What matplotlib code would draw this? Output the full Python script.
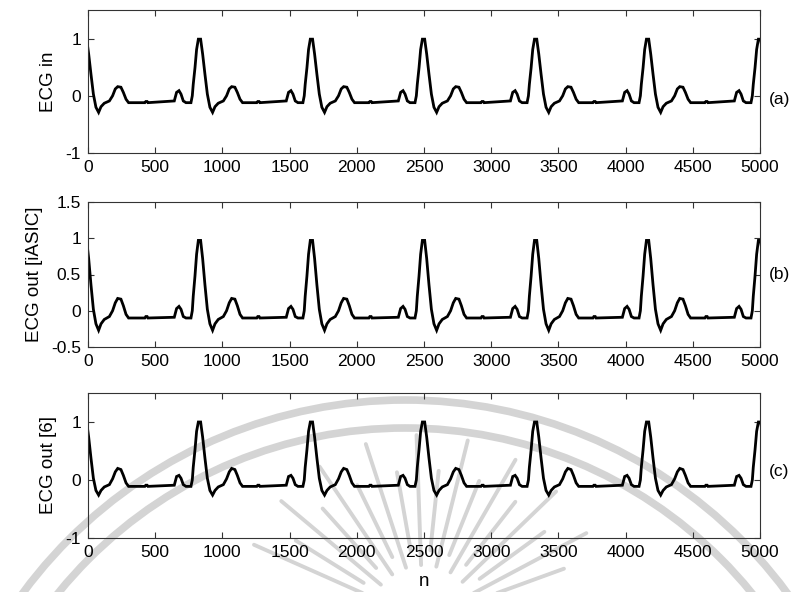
import numpy as np
import matplotlib.pyplot as plt
from matplotlib.patches import Arc

plt.rcParams['font.family'] = ['Liberation Sans', 'DejaVu Sans']

# R-peak sample positions of the six beats (plus the partial one at the edges)
r_peaks = [-20, 828, 1661, 2495, 3329, 4162, 4995]

# one beat, sample offsets relative to the R peak
beat_offsets = [-405, -398, -388, -382, -186, -169, -151, -136, -119, -99,
                -62, -52, -45, -32, -20, -7, 10, 25, 42, 60, 79, 99, 117,
                141, 179, 203, 223, 241, 265, 283, 303, 322, 420]

# beat amplitudes for the input signal and the two filter outputs
beat_in = [-0.12, -0.10, -0.10, -0.12, -0.09, 0.06, 0.09, 0.03, -0.09, -0.12,
           -0.12, 0.00, 0.20, 0.49, 0.81, 0.99, 0.99, 0.73, 0.38, 0.03, -0.20,
           -0.29, -0.19, -0.13, -0.09, 0.00, 0.12, 0.16, 0.15, 0.06, -0.06,
           -0.12, -0.12]
beat_iasic = [-0.10, -0.08, -0.08, -0.10, -0.09, 0.03, 0.06, 0.02, -0.08, -0.10,
              -0.10, 0.00, 0.20, 0.48, 0.78, 0.97, 0.97, 0.72, 0.36, 0.02, -0.18,
              -0.27, -0.18, -0.12, -0.08, 0.00, 0.11, 0.17, 0.16, 0.07, -0.05,
              -0.10, -0.10]
beat_ref6 = [-0.11, -0.09, -0.09, -0.11, -0.09, 0.06, 0.08, 0.03, -0.08, -0.11,
             -0.11, 0.00, 0.22, 0.52, 0.84, 1.00, 1.00, 0.74, 0.38, 0.03, -0.18,
             -0.26, -0.18, -0.12, -0.08, 0.02, 0.14, 0.20, 0.18, 0.08, -0.05,
             -0.11, -0.11]

panels = [
    ('ECG in', beat_in, (-1, 1.5), [-1, 0, 1], ['-1', '0', '1'], '(a)', -0.06),
    ('ECG out [iASIC]', beat_iasic, (-0.5, 1.5), [-0.5, 0, 0.5, 1, 1.5],
     ['-0.5', '0', '0.5', '1', '1.5'], '(b)', 0.5),
    ('ECG out [6]', beat_ref6, (-1, 1.5), [-1, 0, 1], ['-1', '0', '1'], '(c)', 0.15),
]
x_ticks = [0, 500, 1000, 1500, 2000, 2500, 3000, 3500, 4000, 4500, 5000]


def build_signal(beat_vals):
    xs, ys = [], []
    for r in r_peaks:
        xs.extend(r + np.array(beat_offsets))
        ys.extend(beat_vals)
    return np.array(xs), np.array(ys)


W, H = 793, 592
fig = plt.figure(figsize=(W / 100, H / 100), dpi=100)

# faint seal watermark behind the plots
bg = fig.add_axes([0, 0, 1, 1], zorder=-1)
bg.set_xlim(0, W)
bg.set_ylim(H, 0)
bg.axis('off')
wm = '#d4d4d4'
for rad in (475, 447):
    bg.add_patch(Arc((405, 875), 2 * rad, 2 * rad, theta1=180, theta2=360,
                     color=wm, lw=5.5))
for i, ang in enumerate(np.arange(20, 162, 8)):
    a = np.deg2rad(ang)
    r0, r1 = (55, 185) if i % 2 else (70, 150)
    bg.plot([423 + r0 * np.cos(a), 423 + r1 * np.cos(a)],
            [620 - r0 * np.sin(a), 620 - r1 * np.sin(a)],
            color=wm, lw=2.8, solid_capstyle='round')

tops = [10, 202, 393]
bottoms = [153, 347, 538]
left, right = 88, 760
for (ylabel, vals, ylim, yt, ytl, tag, tag_y), top, bot in zip(panels, tops, bottoms):
    ax = fig.add_axes([left / W, 1 - bot / H, (right - left) / W, (bot - top) / H])
    ax.set_facecolor('none')
    x, y = build_signal(vals)
    ax.plot(x, y, color='black', lw=2.0, solid_joinstyle='miter')
    ax.set_xlim(0, 5000)
    ax.set_ylim(*ylim)
    ax.set_xticks(x_ticks)
    ax.set_yticks(yt)
    ax.set_yticklabels(ytl)
    ax.tick_params(direction='in', top=True, right=True, length=4, width=0.8,
                   color='#333333', labelsize=12.5, pad=5)
    for s in ax.spines.values():
        s.set_color('#333333')
        s.set_linewidth(0.8)
    ax.set_ylabel(ylabel, fontsize=13.5, labelpad=6)
    ax.text(1.013, tag_y, tag, transform=ax.get_yaxis_transform(),
            fontsize=12.5, ha='left', va='center')

fig.text(424 / W, 1 - 582 / H, 'n', fontsize=13.5, ha='center', va='center')

fig.savefig('out.png', dpi=100)
